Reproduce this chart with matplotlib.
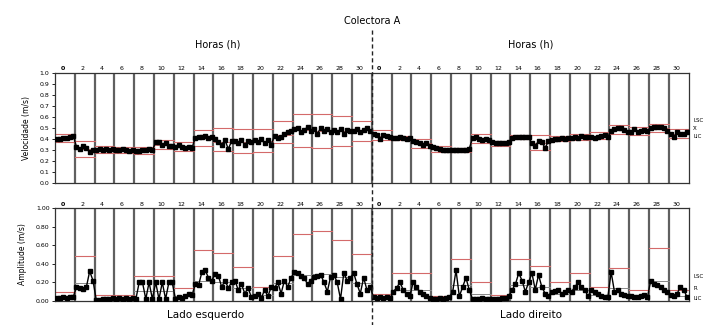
import matplotlib
matplotlib.use("Agg")
import matplotlib.pyplot as plt
import matplotlib.transforms as mtransforms
from matplotlib.lines import Line2D
import numpy as np

# group start labels (hours), same on both sides
hour_labels = [0, 2, 4, 6, 8, 10, 12, 14, 16, 18, 20, 22, 24, 26, 28, 30]

# mean velocity per sample, 6 samples per 2-hour group
mean_left = [
    [0.40, 0.40, 0.41, 0.41, 0.42, 0.43],
    [0.33, 0.31, 0.34, 0.32, 0.28, 0.30],
    [0.30, 0.31, 0.30, 0.31, 0.30, 0.31],
    [0.30, 0.30, 0.31, 0.30, 0.29, 0.30],
    [0.29, 0.29, 0.30, 0.30, 0.31, 0.30],
    [0.37, 0.37, 0.35, 0.36, 0.34, 0.34],
    [0.33, 0.35, 0.33, 0.32, 0.33, 0.32],
    [0.41, 0.42, 0.42, 0.43, 0.41, 0.42],
    [0.40, 0.37, 0.35, 0.39, 0.31, 0.38],
    [0.38, 0.36, 0.39, 0.35, 0.38, 0.37],
    [0.39, 0.37, 0.40, 0.36, 0.39, 0.35],
    [0.43, 0.41, 0.42, 0.45, 0.46, 0.47],
    [0.49, 0.50, 0.46, 0.48, 0.51, 0.47],
    [0.49, 0.45, 0.50, 0.47, 0.49, 0.46],
    [0.48, 0.46, 0.49, 0.45, 0.48, 0.47],
    [0.47, 0.49, 0.46, 0.48, 0.50, 0.47],
]
mean_right = [
    [0.45, 0.44, 0.40, 0.44, 0.43, 0.42],
    [0.41, 0.41, 0.42, 0.41, 0.40, 0.41],
    [0.38, 0.37, 0.36, 0.35, 0.36, 0.34],
    [0.33, 0.32, 0.31, 0.30, 0.30, 0.30],
    [0.30, 0.30, 0.30, 0.30, 0.30, 0.31],
    [0.41, 0.42, 0.40, 0.39, 0.40, 0.39],
    [0.37, 0.36, 0.36, 0.36, 0.36, 0.37],
    [0.41, 0.42, 0.42, 0.42, 0.42, 0.42],
    [0.36, 0.34, 0.38, 0.37, 0.32, 0.38],
    [0.39, 0.40, 0.40, 0.41, 0.40, 0.41],
    [0.41, 0.42, 0.41, 0.43, 0.42, 0.42],
    [0.42, 0.41, 0.42, 0.43, 0.44, 0.42],
    [0.47, 0.49, 0.50, 0.50, 0.48, 0.46],
    [0.46, 0.49, 0.46, 0.47, 0.48, 0.47],
    [0.50, 0.51, 0.51, 0.51, 0.50, 0.47],
    [0.45, 0.42, 0.46, 0.45, 0.45, 0.46],
]

# range per sample
range_left = [
    [0.03, 0.03, 0.04, 0.03, 0.04, 0.04],
    [0.15, 0.14, 0.13, 0.15, 0.32, 0.22],
    [0.01, 0.01, 0.02, 0.02, 0.02, 0.03],
    [0.02, 0.03, 0.02, 0.03, 0.02, 0.03],
    [0.02, 0.20, 0.20, 0.02, 0.20, 0.02],
    [0.20, 0.02, 0.20, 0.02, 0.20, 0.20],
    [0.02, 0.04, 0.03, 0.05, 0.08, 0.06],
    [0.18, 0.17, 0.31, 0.33, 0.25, 0.22],
    [0.29, 0.27, 0.15, 0.22, 0.14, 0.20],
    [0.22, 0.12, 0.18, 0.08, 0.14, 0.04],
    [0.05, 0.08, 0.03, 0.12, 0.05, 0.15],
    [0.14, 0.20, 0.08, 0.22, 0.15, 0.25],
    [0.31, 0.30, 0.27, 0.25, 0.18, 0.22],
    [0.26, 0.27, 0.28, 0.20, 0.10, 0.26],
    [0.28, 0.20, 0.02, 0.30, 0.22, 0.25],
    [0.30, 0.18, 0.08, 0.25, 0.12, 0.15],
]
range_right = [
    [0.04, 0.03, 0.04, 0.03, 0.04, 0.03],
    [0.10, 0.14, 0.20, 0.12, 0.08, 0.05],
    [0.20, 0.15, 0.10, 0.08, 0.05, 0.03],
    [0.02, 0.02, 0.03, 0.02, 0.03, 0.04],
    [0.10, 0.33, 0.05, 0.15, 0.25, 0.12],
    [0.02, 0.02, 0.02, 0.03, 0.02, 0.02],
    [0.02, 0.02, 0.02, 0.03, 0.03, 0.05],
    [0.12, 0.18, 0.30, 0.22, 0.10, 0.20],
    [0.30, 0.12, 0.28, 0.15, 0.08, 0.05],
    [0.10, 0.11, 0.12, 0.08, 0.10, 0.12],
    [0.10, 0.15, 0.20, 0.15, 0.12, 0.05],
    [0.12, 0.10, 0.08, 0.05, 0.04, 0.04],
    [0.31, 0.10, 0.12, 0.08, 0.06, 0.05],
    [0.05, 0.04, 0.04, 0.05, 0.06, 0.04],
    [0.22, 0.18, 0.17, 0.15, 0.12, 0.10],
    [0.06, 0.05, 0.08, 0.15, 0.12, 0.04],
]

# control limits per group (mean chart)
lsc_mean = [0.45, 0.38, 0.34, 0.33, 0.33, 0.39, 0.37, 0.48, 0.50, 0.49, 0.49, 0.56, 0.63, 0.63, 0.61, 0.56,
            0.48, 0.43, 0.40, 0.34, 0.32, 0.45, 0.38, 0.44, 0.44, 0.43, 0.45, 0.46, 0.53, 0.51, 0.54, 0.49]
lc_mean = [0.41, 0.31, 0.30, 0.30, 0.30, 0.35, 0.33, 0.42, 0.37, 0.37, 0.38, 0.44, 0.48, 0.47, 0.47, 0.48,
           0.43, 0.41, 0.36, 0.31, 0.30, 0.40, 0.36, 0.42, 0.36, 0.40, 0.42, 0.42, 0.48, 0.47, 0.50, 0.45]
lic_mean = [0.37, 0.24, 0.27, 0.27, 0.26, 0.31, 0.29, 0.34, 0.29, 0.27, 0.28, 0.36, 0.33, 0.32, 0.34, 0.38,
            0.39, 0.39, 0.32, 0.28, 0.28, 0.36, 0.34, 0.40, 0.30, 0.38, 0.39, 0.40, 0.45, 0.44, 0.46, 0.41]

# control limits per group (range chart)
lsc_range = [0.10, 0.48, 0.06, 0.06, 0.27, 0.27, 0.14, 0.55, 0.52, 0.37, 0.15, 0.48, 0.72, 0.75, 0.66, 0.50,
             0.08, 0.30, 0.30, 0.05, 0.45, 0.20, 0.06, 0.45, 0.38, 0.20, 0.30, 0.15, 0.35, 0.12, 0.57, 0.12]
lc_range = [0.04, 0.19, 0.02, 0.02, 0.11, 0.11, 0.05, 0.22, 0.20, 0.14, 0.06, 0.19, 0.28, 0.29, 0.26, 0.19,
            0.03, 0.12, 0.12, 0.02, 0.17, 0.08, 0.02, 0.17, 0.15, 0.08, 0.12, 0.06, 0.14, 0.05, 0.22, 0.05]

RED = "#d46a6a"
GRID = "#606060"


def sample_x(groups):
    xs, ys = [], []
    for g, vals in enumerate(groups):
        n = len(vals)
        for i, v in enumerate(vals):
            xs.append(2 * g + (i + 0.5) * 2 / n)
            ys.append(v)
    return np.array(xs), np.array(ys)


def draw_panel(ax, groups, limits, ylim, yticks, fmt, ylabel):
    xs, ys = sample_x(groups)
    for lims, col, lw in limits:
        for g, v in enumerate(lims):
            ax.plot([2 * g, 2 * g + 2], [v, v], color=col, lw=lw, zorder=2)
    ax.plot(xs, ys, color="black", lw=1.0, marker="s", ms=2.4, zorder=4)
    for g in range(1, 32):
        ax.axvline(2 * g, color=GRID, lw=1.6, zorder=1)
    ax.set_xlim(0, 64)
    ax.set_ylim(*ylim)
    ax.set_xticks([])
    ax.set_yticks(yticks)
    ax.set_yticklabels([fmt.format(t) for t in yticks], fontsize=4.5)
    ax.tick_params(axis="y", length=2.5, width=0.6, pad=1.5)
    ax.set_ylabel(ylabel, fontsize=5.5, labelpad=6)
    for sp in ax.spines.values():
        sp.set_linewidth(0.9)
        sp.set_color("#333333")
    trans = mtransforms.blended_transform_factory(ax.transData, ax.transAxes)
    for side in range(2):
        for k, h in enumerate(hour_labels):
            ax.text(32 * side + h + 0.75, 1.015, str(h), transform=trans,
                    ha="center", va="bottom", fontsize=4.5,
                    fontweight="bold" if k == 0 else "normal")


def main():
    fig = plt.figure(figsize=(7.1, 3.25), dpi=100)
    ax1 = fig.add_axes([0.0775, 0.437, 0.8925, 0.338])
    ax2 = fig.add_axes([0.0775, 0.074, 0.8925, 0.286])

    draw_panel(ax1, mean_left + mean_right,
               [(lsc_mean, RED, 0.8), (lc_mean, RED, 0.6), (lic_mean, RED, 0.8)],
               (0, 1.0), np.round(np.arange(0, 1.01, 0.1), 1), "{:.1f}", "Velocidade (m/s)")
    draw_panel(ax2, range_left + range_right,
               [(lsc_range, RED, 0.8), (lc_range, "#888888", 0.7)],
               (0, 1.0), np.round(np.arange(0, 1.01, 0.2), 1), "{:.2f}", "Amplitude (m/s)")

    fig.text(0.524, 0.935, "Colectora A", ha="center", va="center", fontsize=7)
    fig.text(0.307, 0.862, "Horas (h)", ha="center", va="center", fontsize=7)
    fig.text(0.748, 0.862, "Horas (h)", ha="center", va="center", fontsize=7)
    fig.text(0.290, 0.030, "Lado esquerdo", ha="center", va="center", fontsize=7.5)
    fig.text(0.748, 0.030, "Lado direito", ha="center", va="center", fontsize=7.5)

    for txt, y in [("LSC", 121), ("X\u0304", 129), ("LIC", 137), ("LSC", 277), ("R\u0304", 289), ("LIC", 298)]:
        fig.text(693 / 710, 1 - y / 325, txt, ha="left", va="center", fontsize=4)

    fig.add_artist(Line2D([372 / 710, 372 / 710], [1 - 30 / 325, 0.0], transform=fig.transFigure,
                          color="#222222", lw=1.0, linestyle=(0, (3, 2)), zorder=10))

    fig.savefig("out.png", dpi=100)


if __name__ == "__main__":
    main()
